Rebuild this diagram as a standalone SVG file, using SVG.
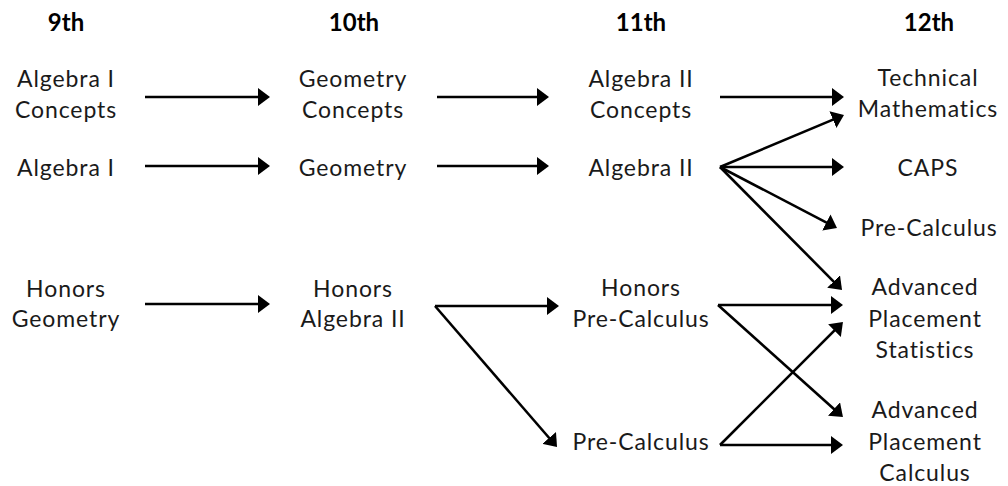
<svg xmlns="http://www.w3.org/2000/svg" width="1008" height="486" viewBox="0 0 1008 486">
<style>
text{font-family:Lato,"Open Sans","DejaVu Sans",sans-serif;font-size:23px;fill:#1a1a1a;text-anchor:middle;letter-spacing:0.9px}
text.h{font-weight:bold;font-size:24px;fill:#000;letter-spacing:0}
.c line{stroke:#000;stroke-width:2.6;fill:none;marker-end:url(#ah)}
</style>
<defs>
<marker id="ah" markerUnits="userSpaceOnUse" viewBox="0 -9 12 18" refX="4" refY="0" markerWidth="12" markerHeight="18" orient="auto">
<path d="M0,-9 L12,0 L0,9 z" fill="#000"/>
</marker>
</defs>
<rect width="1008" height="486" fill="#fff"/>
<g id="headers">
<text class="h" x="66" y="31">9th</text>
<text class="h" x="354" y="31">10th</text>
<text class="h" x="641" y="31">11th</text>
<text class="h" x="929" y="31">12th</text>
</g>
<g id="alg1c"><text x="66" y="87">Algebra I</text><text x="66" y="118">Concepts</text></g>
<g id="alg1"><text x="66" y="176">Algebra I</text></g>
<g id="hgeo"><text x="66" y="297">Honors</text><text x="66" y="327">Geometry</text></g>
<g id="geoc"><text x="353" y="87">Geometry</text><text x="353" y="118">Concepts</text></g>
<g id="geo"><text x="353" y="176">Geometry</text></g>
<g id="halg2"><text x="353" y="297">Honors</text><text x="353" y="327">Algebra II</text></g>
<g id="alg2c"><text x="641" y="87">Algebra II</text><text x="641" y="118">Concepts</text></g>
<g id="alg2"><text x="641" y="176">Algebra II</text></g>
<g id="hprecalc"><text x="641" y="296">Honors</text><text x="641" y="327">Pre-Calculus</text></g>
<g id="precalc11"><text x="641" y="450">Pre-Calculus</text></g>
<g id="techmath"><text x="928" y="86">Technical</text><text x="928" y="117">Mathematics</text></g>
<g id="caps"><text x="928" y="176">CAPS</text></g>
<g id="precalc12"><text x="929" y="236">Pre-Calculus</text></g>
<g id="apstats"><text x="925" y="295">Advanced</text><text x="925" y="327">Placement</text><text x="925" y="358">Statistics</text></g>
<g id="apcalc"><text x="925" y="418">Advanced</text><text x="925" y="450">Placement</text><text x="925" y="481">Calculus</text></g>
<g id="connectors" class="c">
<line x1="145" y1="97" x2="262" y2="97"/>
<line x1="437" y1="97" x2="541" y2="97"/>
<line x1="720" y1="97" x2="836" y2="97"/>
<line x1="145" y1="166" x2="262" y2="166"/>
<line x1="437" y1="166" x2="541" y2="166"/>
<line x1="720" y1="167" x2="836" y2="167"/>
<line x1="720" y1="167" x2="836.6" y2="118.1"/>
<line x1="720" y1="167" x2="829.9" y2="224.3"/>
<line x1="720" y1="167" x2="836.4" y2="284.3"/>
<line x1="145" y1="304" x2="262" y2="304"/>
<line x1="435" y1="306" x2="551" y2="306"/>
<line x1="435" y1="306" x2="551.8" y2="441"/>
<line x1="718" y1="305" x2="835" y2="305"/>
<line x1="718" y1="305" x2="837" y2="411.7"/>
<line x1="720" y1="445" x2="837.3" y2="327.7"/>
<line x1="720" y1="445" x2="835" y2="445"/>
</g>
</svg>
